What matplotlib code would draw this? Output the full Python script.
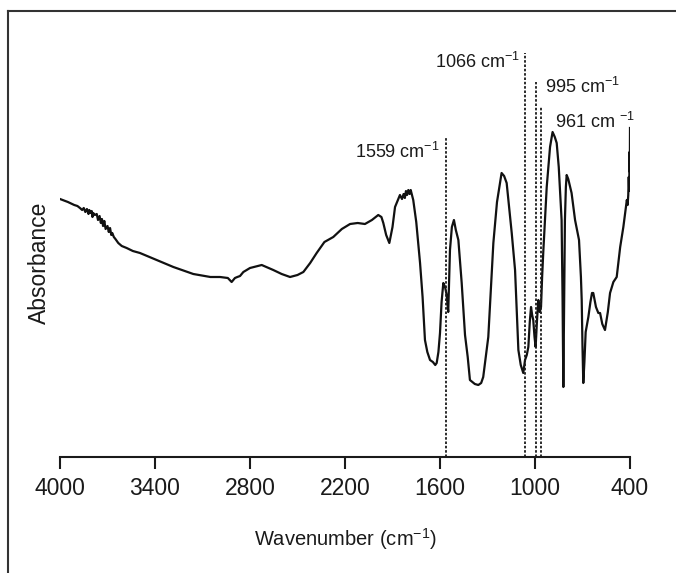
import matplotlib
matplotlib.use("Agg")
import matplotlib.pyplot as plt
from matplotlib.lines import Line2D

FONT = ['Liberation Sans Narrow', 'Liberation Sans', 'DejaVu Sans']
plt.rcParams['font.family'] = FONT
plt.rcParams['mathtext.fontset'] = 'custom'
plt.rcParams['mathtext.rm'] = 'Liberation Sans'
plt.rcParams['mathtext.it'] = 'Liberation Sans'

# ---- data ----
wavenumber = [4000, 3950, 3910, 3890, 3874, 3860, 3850, 3840, 3830, 3820, 3815, 3808,
              3800, 3795, 3790, 3780, 3768, 3760, 3750, 3742, 3735, 3728, 3720, 3712,
              3700, 3692, 3684, 3676, 3670, 3660, 3650, 3632, 3610, 3579, 3540, 3495,
              3389, 3284, 3158, 3050, 2989, 2940, 2916, 2895, 2880, 2863, 2842, 2800,
              2726, 2653, 2600, 2547, 2500, 2463, 2420, 2379, 2330, 2274, 2220, 2168,
              2120, 2074, 2030, 1990, 1970, 1958, 1940, 1920, 1900, 1884, 1853, 1840,
              1830, 1822, 1815, 1808, 1800, 1792, 1785, 1769, 1750, 1726, 1710, 1695,
              1680, 1663, 1645, 1630, 1621, 1610, 1600, 1590, 1579, 1568, 1558, 1548,
              1537, 1525, 1512, 1500, 1484, 1463, 1442, 1425, 1411, 1380, 1358, 1340,
              1327, 1295, 1263, 1240, 1211, 1195, 1179, 1147, 1126, 1105, 1090, 1074,
              1063, 1052, 1042, 1033, 1025, 1018, 1011, 1003, 996, 988, 979, 970, 962,
              955, 948, 926, 905, 889, 875, 863, 850, 840, 832, 826, 821, 816, 811, 805,
              800, 790, 769, 747, 722, 710, 705, 700, 695, 688, 680, 663, 650, 640, 632,
              615, 600, 589, 575, 558, 540, 526, 505, 484, 462, 442, 430, 420, 415, 411,
              408, 405, 403, 401, 400]
absorbance = [2.58, 2.55, 2.52, 2.51, 2.49, 2.47, 2.49, 2.45, 2.48, 2.43, 2.47, 2.44,
              2.46, 2.40, 2.44, 2.42, 2.43, 2.37, 2.41, 2.34, 2.38, 2.31, 2.36, 2.28,
              2.31, 2.25, 2.29, 2.22, 2.24, 2.20, 2.18, 2.14, 2.11, 2.09, 2.06, 2.04,
              1.97, 1.90, 1.83, 1.80, 1.80, 1.79, 1.75, 1.79, 1.80, 1.81, 1.85, 1.89,
              1.92, 1.87, 1.83, 1.80, 1.82, 1.85, 1.94, 2.04, 2.15, 2.20, 2.28, 2.33,
              2.34, 2.33, 2.37, 2.42, 2.40, 2.34, 2.22, 2.14, 2.30, 2.50, 2.62, 2.58,
              2.63, 2.59, 2.66, 2.62, 2.67, 2.63, 2.67, 2.57, 2.35, 1.94, 1.60, 1.17,
              1.05, 0.97, 0.95, 0.92, 0.94, 1.05, 1.24, 1.55, 1.74, 1.70, 1.62, 1.45,
              2.07, 2.30, 2.37, 2.27, 2.17, 1.74, 1.22, 1.00, 0.77, 0.73, 0.72, 0.74,
              0.80, 1.20, 2.14, 2.55, 2.84, 2.81, 2.74, 2.24, 1.87, 1.07, 0.92, 0.84,
              0.97, 1.02, 1.10, 1.35, 1.50, 1.42, 1.37, 1.20, 1.10, 1.35, 1.57, 1.45,
              1.50, 1.80, 2.04, 2.70, 3.10, 3.25, 3.20, 3.14, 2.90, 2.60, 2.37, 1.60,
              0.70, 1.50, 2.37, 2.70, 2.82, 2.78, 2.64, 2.37, 2.17, 1.80, 1.57, 1.10,
              0.74, 0.95, 1.25, 1.40, 1.55, 1.64, 1.64, 1.50, 1.44, 1.44, 1.33, 1.27,
              1.45, 1.64, 1.75, 1.80, 2.10, 2.30, 2.45, 2.57, 2.52, 2.62, 2.80, 2.66,
              3.05, 2.85, 3.29]

peak_positions = [1559, 1066, 995, 961]
peak_line_tops = [3.20, 4.04, 3.75, 3.50]
peak_labels = ['1559 cm$^{\\mathregular{-1}}$', '1066 cm$^{\\mathregular{-1}}$',
               '995 cm$^{\\mathregular{-1}}$', '961 cm $^{\\mathregular{-1}}$']
label_x = [1600, 1095, 937, 874]
label_y = [2.99, 3.89, 3.64, 3.29]
label_ha = ['right', 'right', 'left', 'left']

xticks = [4000, 3400, 2800, 2200, 1600, 1000, 400]

# ---- figure ----
W, H = 676, 573
fig = plt.figure(figsize=(W / 100, H / 100), dpi=100)
ax = fig.add_axes([60 / W, 1 - 457 / H, 570 / W, 417 / H])

ax.plot(wavenumber, absorbance, color='#111111', lw=1.6, solid_joinstyle='round')

for xp, yt in zip(peak_positions, peak_line_tops):
    ax.plot([xp, xp], [0, yt], color='#1a1a1a', lw=1.3, linestyle=(0, (1.4, 1.0)))

for txt, xx, yy, ha in zip(peak_labels, label_x, label_y, label_ha):
    ax.text(xx, yy, txt, ha=ha, va='baseline', fontsize=13, color='#1a1a1a')

ax.set_xlim(4000, 400)
ax.set_ylim(0, 4.17)
ax.set_xticks(xticks)
ax.set_xticklabels([str(t) for t in xticks])
ax.set_yticks([])
for s in ['top', 'right', 'left']:
    ax.spines[s].set_visible(False)
ax.spines['bottom'].set_linewidth(1.5)
ax.spines['bottom'].set_color('#1a1a1a')
ax.tick_params(axis='x', direction='out', length=8.5, width=1.5, pad=6,
               labelsize=16.5, colors='#1a1a1a')
ax.set_xlabel('Wavenumber (cm$^{\\mathregular{-1}}$)', fontsize=14.5, labelpad=19,
              color='#1a1a1a')
ax.set_ylabel('Absorbance', fontsize=16.5, color='#1a1a1a')
ax.yaxis.set_label_coords(-9 / 570, 0.465)

# figure frame (left and top edges)
fx = 7.5 / W
fy = 1 - 10.5 / H
fig.add_artist(Line2D([fx, fx], [0, fy], transform=fig.transFigure, color='#333333', lw=1.5))
fig.add_artist(Line2D([fx, 1], [fy, fy], transform=fig.transFigure, color='#333333', lw=1.5))

fig.savefig('out.png', dpi=100)
